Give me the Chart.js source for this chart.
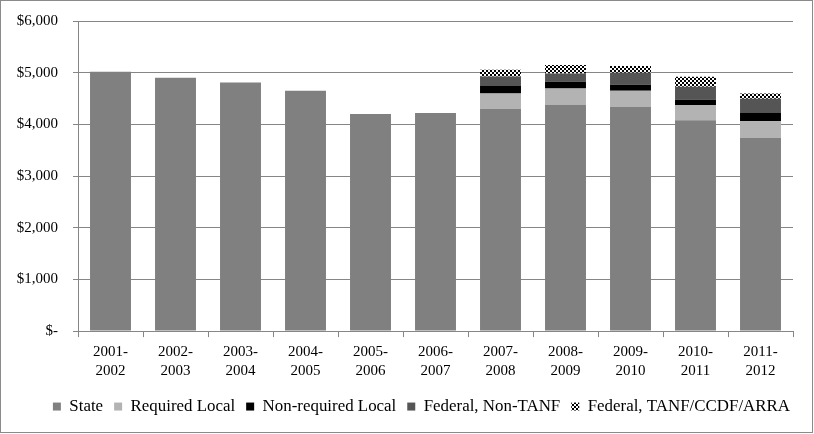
<!DOCTYPE html>
<html>
<head>
<meta charset="utf-8">
<script src="https://cdn.jsdelivr.net/npm/chart.js@4.4.0/dist/chart.umd.min.js"></script>
<style>
html,body{margin:0;padding:0;background:#fff;}
canvas{display:block;}
</style>
</head>
<body>
<canvas id="c" width="814" height="434"></canvas>
<script>
const categories = [["2001-","2002"],["2002-","2003"],["2003-","2004"],["2004-","2005"],["2005-","2006"],["2006-","2007"],["2007-","2008"],["2008-","2009"],["2009-","2010"],["2010-","2011"],["2011-","2012"]];
const stateVals        = [5020, 4900, 4810, 4650, 4200, 4220, 4300, 4375, 4335, 4080, 3740];
const requiredLocal    = [0, 0, 0, 0, 0, 0, 295, 320, 317, 295, 320];
const nonRequiredLocal = [0, 0, 0, 0, 0, 0, 155, 130, 116, 103, 168];
const federalNonTANF   = [0, 0, 0, 0, 0, 0, 175, 161, 232, 252, 270];
const federalTANF      = [0, 0, 0, 0, 0, 0, 130, 161, 129, 193, 97];
const yTicks = [0, 1000, 2000, 3000, 4000, 5000, 6000];

function makePattern(){
  const t = document.createElement('canvas');
  t.width = 4; t.height = 4;
  const g = t.getContext('2d');
  g.fillStyle = '#ffffff'; g.fillRect(0,0,4,4);
  g.fillStyle = '#000000';
  g.fillRect(0,0,2,2); g.fillRect(2,2,2,2);
  return g.createPattern(t,'repeat');
}
const pat = makePattern();

const frame = {
  id:'frame',
  afterDraw(chart){
    const ctx = chart.ctx;
    ctx.save();
    ctx.strokeStyle = '#8a8a8a';
    ctx.lineWidth = 1;
    ctx.strokeRect(0.5,0.5,812,432);
    ctx.restore();
  }
};

const fam = "'Liberation Serif', 'DejaVu Serif', serif";
const font = {family:fam, size:15, lineHeight:1.27};
Chart.defaults.color = '#000';

new Chart(document.getElementById('c'), {
  type:'bar',
  data:{
    labels:categories,
    datasets:[
      {label:'State', data:stateVals, backgroundColor:'#808080'},
      {label:'Required Local', data:requiredLocal, backgroundColor:'#b3b3b3'},
      {label:'Non-required Local', data:nonRequiredLocal, backgroundColor:'#000000'},
      {label:'Federal, Non-TANF', data:federalNonTANF, backgroundColor:'#555555'},
      {label:'Federal, TANF/CCDF/ARRA', data:federalTANF, backgroundColor:pat}
    ]
  },
  options:{
    responsive:false,
    animation:false,
    datasets:{bar:{categoryPercentage:1, barPercentage:0.63, borderWidth:0}},
    layout:{padding:{left:0,right:13,top:21,bottom:9}},
    plugins:{
      tooltip:{enabled:false},
      legend:{
        position:'bottom',
        align:'end',
        labels:{font:{family:fam, size:16.9}, boxWidth:8, boxHeight:8, padding:11}
      }
    },
    scales:{
      x:{
        stacked:true,
        afterFit(s){ s.height = 56; s.paddingLeft = 0; s.paddingRight = 0; },
        ticks:{font:font, padding:5, maxRotation:0},
        grid:{drawOnChartArea:false, tickLength:6, color:'#868686', offset:true},
        border:{color:'#868686'}
      },
      y:{
        stacked:true,
        min:0, max:6000,
        afterFit(s){ s.width = 78; s.paddingTop = 0; s.paddingBottom = 0; },
        afterBuildTicks(s){ s.ticks = yTicks.map(v=>({value:v})); },
        ticks:{font:font, padding:15, callback:v=> v===0 ? '$-' : '$'+v.toLocaleString('en-US')},
        grid:{color:'#868686', tickLength:5},
        border:{color:'#868686'}
      },
      spacer:{
        type:'linear',
        position:'right',
        display:true,
        afterFit(s){ s.width = 8; s.paddingTop = 0; s.paddingBottom = 0; },
        ticks:{display:false},
        grid:{display:false},
        border:{display:false}
      }
    }
  },
  plugins:[frame]
});
</script>
</body>
</html>
